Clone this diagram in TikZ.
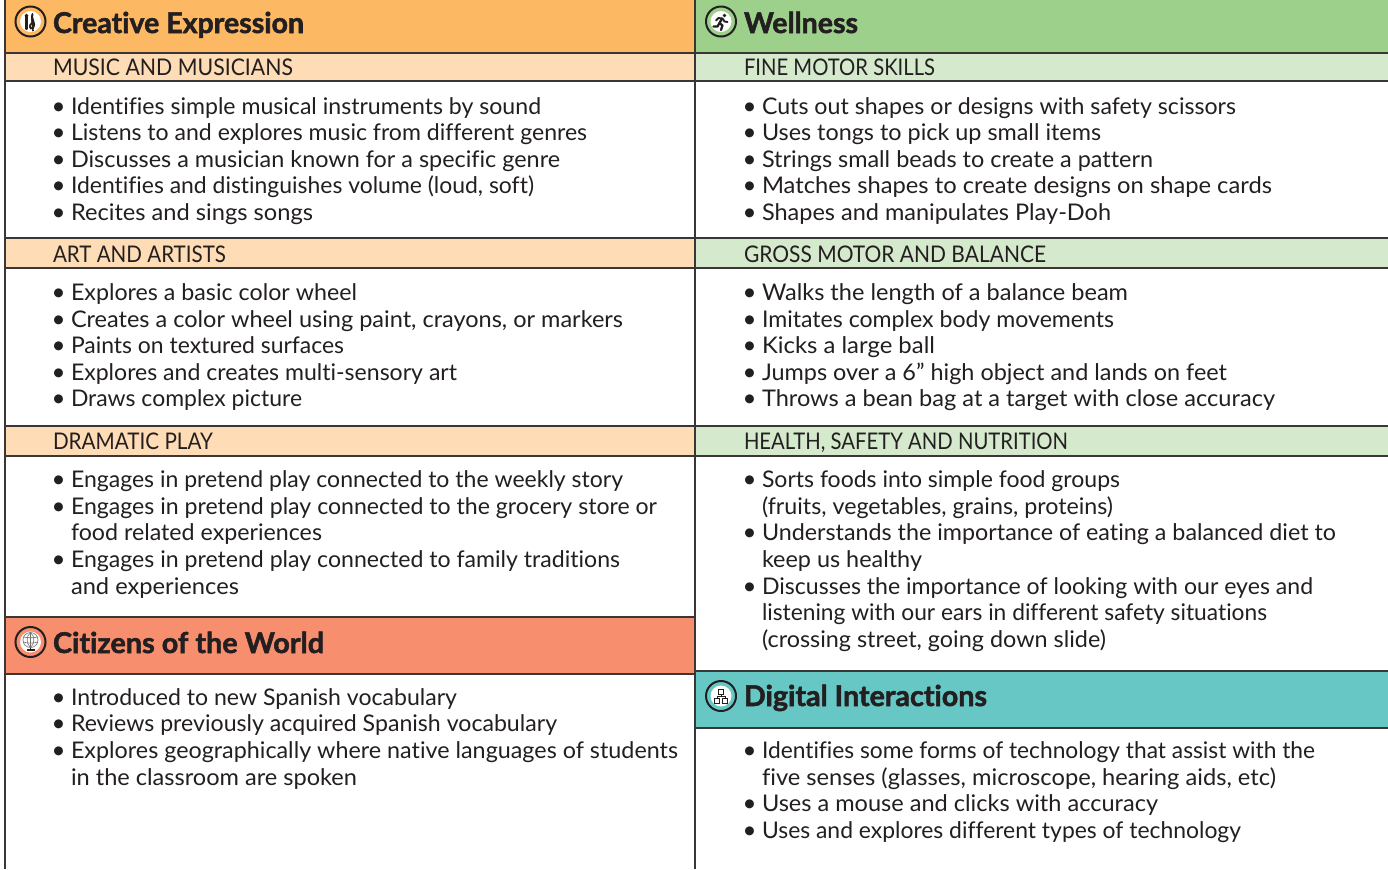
\documentclass[tikz,border=0pt]{standalone}
\usepackage{fontspec}
\usepackage{graphicx}
\setmainfont[Ligatures=NoCommon,BoldFeatures={FakeBold=1.8}]{Lato}
\definecolor{ink}{HTML}{231F20}
\definecolor{rulec}{HTML}{3A3636}
\definecolor{orangeA}{HTML}{FDB863}
\definecolor{orangeB}{HTML}{FEDCB5}
\definecolor{greenA}{HTML}{9DD08A}
\definecolor{greenB}{HTML}{D5E9CC}
\definecolor{coralA}{HTML}{F78F6F}
\definecolor{tealA}{HTML}{66C7C4}
\newcount\tn
\newdimen\fitw
\newcommand{\fit}[3]{\fitw=\numexpr(#2-#1)*3\relax pt \divide\fitw by 4 \resizebox{\fitw}{\height}{#3}}
\newcommand{\ctext}[4]{\global\advance\tn by 1
  \node[txt,font=\fontsize{17.2}{20}\selectfont] (t\the\tn) at (#1,#3) {\fit{#1}{#2}{#4}};}
\newcommand{\btext}[4]{\global\advance\tn by 1
  \node[txt,font=\fontsize{18}{20}\selectfont] (b\the\tn) at (#1-19.5,#3) {•};
  \ctext{#1}{#2}{#3}{#4}}
\newcommand{\subhead}[4]{\global\advance\tn by 1
  \node[txt,font=\fontsize{17.2}{20}\selectfont] (s\the\tn) at (#1,#3) {\fit{#1}{#2}{#4}};}
\newcommand{\titletext}[4]{\global\advance\tn by 1
  \node[txt,font=\fontsize{21.5}{26}\selectfont\bfseries] (h\the\tn) at (#1,#3) {\fit{#1}{#2}{#4}};}
\newcommand{\badge}[3]{%
  \fill[#3] (#1,#2) circle (15);
  \draw[ink,line width=1.5pt] (#1,#2) circle (15);
  \fill[white] (#1,#2) circle (10.5);}
\tikzset{
  txt/.style={anchor=base west,inner sep=0pt,outer sep=0pt,text=ink},
  hrule/.style={rulec,line width=1.2pt},
  vrule/.style={rulec,line width=2pt}
}
\begin{document}
\begin{tikzpicture}[x=0.75pt,y=-0.75pt]
\useasboundingbox (0,0) rectangle (1388,869);
\fill[white] (0,0) rectangle (1388,869);
% left colour bands
\fill[orangeA] (5,0) rectangle (695,53);
\fill[orangeB] (5,53) rectangle (695,81);
\fill[orangeB] (5,238) rectangle (695,268);
\fill[orangeB] (5,426) rectangle (695,456);
\fill[coralA] (5,617) rectangle (695,674);
% right colour bands
\fill[greenA] (695,0) rectangle (1388,53);
\fill[greenB] (695,53) rectangle (1388,81);
\fill[greenB] (695,238) rectangle (1388,268);
\fill[greenB] (695,426) rectangle (1388,456);
\fill[tealA] (695,671) rectangle (1388,728);
% rules
\foreach \y in {53,81,238,268,426,456,617,674} \draw[hrule] (5,\y) -- (695,\y);
\foreach \y in {53,81,238,268,426,456,671,728} \draw[hrule] (695,\y) -- (1388,\y);
\draw[vrule] (5,0) -- (5,869);
\draw[vrule] (695,0) -- (695,869);
% badges
\badge{30.5}{21.5}{orangeA}
\badge{721}{21.5}{greenA}
\badge{30.5}{642}{coralA}
\badge{721}{696}{tealA}
% music icon
\draw[ink,line width=1.6pt,line cap=round] (26.5,16) -- (26.5,29);
\fill[ink] (26.5,15.5) circle (1.9);
\draw[ink,line width=1.4pt,line cap=round] (32.5,14) .. controls (30,18) and (37,24) .. (33,28) .. controls (29.5,30) and (28.8,25) .. (32,23) .. controls (33,22) and (31,17) .. (32.5,14);
\draw[ink,line width=1.2pt] (32.3,18) -- (33,31);
% runner icon
\fill[ink] (724.5,15.5) circle (1.8);
\draw[ink,line width=1.7pt,line cap=round,line join=round] (722,18.5) -- (719.5,23) -- (722.5,25.5) -- (721,30);
\draw[ink,line width=1.7pt,line cap=round,line join=round] (719.5,23) -- (717.5,26.5) -- (713.5,26.5);
\draw[ink,line width=1.4pt,line cap=round,line join=round] (716,20.5) -- (718.5,18) -- (722.5,18.5) -- (724.5,21.5) -- (727.5,22);
% globe icon
\draw[ink!65,line width=.45pt] (30.5,640) circle (7.5);
\draw[ink!65,line width=.45pt] (30.5,632.5) .. controls (26,636) and (26,644) .. (30.5,647.5);
\draw[ink!65,line width=.45pt] (30.5,632.5) .. controls (35,636) and (35,644) .. (30.5,647.5);
\draw[ink!65,line width=.45pt] (30.5,632.5) -- (30.5,647.5);
\draw[ink!65,line width=.45pt] (23.5,637) .. controls (27,638) and (34,638) .. (37.5,637);
\draw[ink!65,line width=.45pt] (23.5,642) .. controls (27,643.5) and (34,643.5) .. (37.5,642);
\draw[ink,line width=.8pt] (30.5,647.5) -- (30.5,649.5) (26.5,650) -- (34.5,650);
% network icon
\draw[ink,line width=.75pt] (718.5,689.5) rectangle (723.5,694.5);
\draw[ink,line width=.75pt] (714.5,698.5) rectangle (719.5,703);
\draw[ink,line width=.75pt] (722.5,698.5) rectangle (727.5,703);
\draw[ink,line width=.75pt] (721,694.5) -- (721,696.5) (717,698.5) -- (717,696.5) -- (725,696.5) -- (725,698.5);
% titles
\titletext{53}{304}{33}{Creative Expression}
\titletext{744}{858}{33}{Wellness}
\titletext{53}{324}{653}{Citizens of the World}
\titletext{744}{987}{706}{Digital Interactions}
% subheads
\subhead{53}{293}{75.5}{MUSIC AND MUSICIANS}
\subhead{53}{226}{262.5}{ART AND ARTISTS}
\subhead{53}{213}{449.5}{DRAMATIC PLAY}
\subhead{744}{935}{75.5}{FINE MOTOR SKILLS}
\subhead{744}{1046}{262.5}{GROSS MOTOR AND BALANCE}
\subhead{744}{1068}{449.5}{HEALTH, SAFETY AND NUTRITION}
% left column
\btext{71}{541}{114}{Identifies simple musical instruments by sound}
\btext{71}{587}{140}{Listens to and explores music from different genres}
\btext{71}{560}{167}{Discusses a musician known for a specific genre}
\btext{71}{534}{193}{Identifies and distinguishes volume (loud, soft)}
\btext{71}{313}{220}{Recites and sings songs}
\btext{71}{357}{300}{Explores a basic color wheel}
\btext{71}{623}{327}{Creates a color wheel using paint, crayons, or markers}
\btext{71}{344}{353}{Paints on textured surfaces}
\btext{71}{457}{380}{Explores and creates multi-sensory art}
\btext{71}{302}{406}{Draws complex picture}
\btext{71}{623}{487}{Engages in pretend play connected to the weekly story}
\btext{71}{657}{514}{Engages in pretend play connected to the grocery store or}
\ctext{71}{322}{540}{food related experiences}
\btext{71}{620}{567}{Engages in pretend play connected to family traditions}
\ctext{71}{239}{594}{and experiences}
\btext{71}{457}{705}{Introduced to new Spanish vocabulary}
\btext{71}{557}{731}{Reviews previously acquired Spanish vocabulary}
\btext{71}{678}{758}{Explores geographically where native languages of students}
\ctext{71}{357}{785}{in the classroom are spoken}
% right column
\btext{762}{1236}{114}{Cuts out shapes or designs with safety scissors}
\btext{762}{1101}{140}{Uses tongs to pick up small items}
\btext{762}{1153}{167}{Strings small beads to create a pattern}
\btext{762}{1272}{193}{Matches shapes to create designs on shape cards}
\btext{762}{1111}{220}{Shapes and manipulates Play-Doh}
\btext{762}{1128}{300}{Walks the length of a balance beam}
\btext{762}{1114}{327}{Imitates complex body movements}
\btext{762}{935}{353}{Kicks a large ball}
\btext{762}{1227}{380}{Jumps over a 6” high object and lands on feet}
\btext{762}{1275}{406}{Throws a bean bag at a target with close accuracy}
\btext{762}{1120}{487}{Sorts foods into simple food groups}
\ctext{762}{1113}{514}{(fruits, vegetables, grains, proteins)}
\btext{762}{1336}{540}{Understands the importance of eating a balanced diet to}
\ctext{762}{922}{567}{keep us healthy}
\btext{762}{1313}{594}{Discusses the importance of looking with our eyes and}
\ctext{762}{1267}{620}{listening with our ears in different safety situations}
\ctext{762}{1106}{647}{(crossing street, going down slide)}
\btext{762}{1315}{758}{Identifies some forms of technology that assist with the}
\ctext{762}{1276}{785}{five senses (glasses, microscope, hearing aids, etc)}
\btext{762}{1158}{811}{Uses a mouse and clicks with accuracy}
\btext{762}{1241}{838}{Uses and explores different types of technology}
\end{tikzpicture}
\end{document}
